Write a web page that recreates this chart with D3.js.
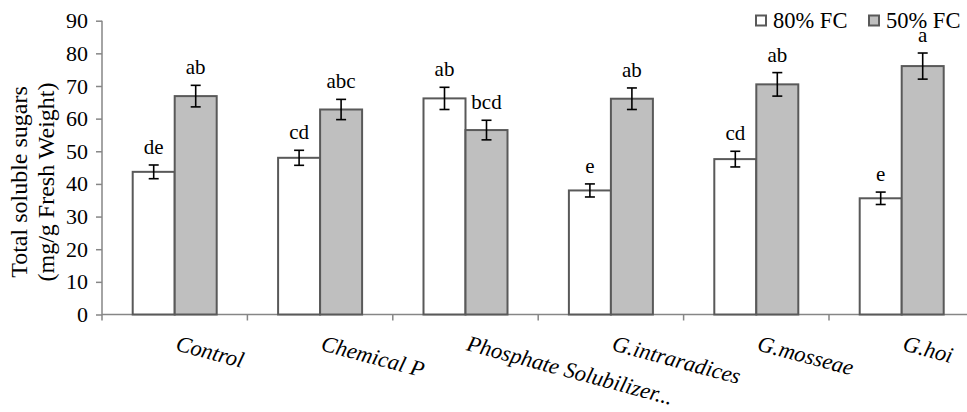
<!DOCTYPE html>
<html>
<head>
<meta charset="utf-8">
<script src="https://cdn.jsdelivr.net/npm/d3@7"></script>
</head>
<body style="margin:0">
<svg id="chart" width="967" height="412" style="font-family: 'Liberation Serif', 'Times New Roman', serif"></svg>
<script>
const categories = ["Control", "Chemical P", "Phosphate Solubilizer...", "G.intraradices", "G.mosseae", "G.hoi"];
const seriesNames = ["80% FC", "50% FC"];
const fc80 = [43.7, 48.0, 66.2, 38.0, 47.6, 35.6];
const fc50 = [66.9, 62.8, 56.5, 66.1, 70.5, 76.1];
const err80 = [2.1, 2.3, 3.4, 2.0, 2.4, 1.9];
const err50 = [3.3, 3.1, 3.0, 3.3, 3.6, 4.0];
const letters80 = ["de", "cd", "ab", "e", "cd", "e"];
const letters50 = ["ab", "abc", "bcd", "ab", "ab", "a"];
const yTicks = [0, 10, 20, 30, 40, 50, 60, 70, 80, 90];

const FONT = "'Liberation Serif', 'Times New Roman', serif";
const svg = d3.select("#chart");
const mLeft = 102, mTop = 20.7, mBottom = 314.5, bandW = 145.4;
const mRight = mLeft + bandW * categories.length;

const x = d3.scaleBand().domain(categories).range([mLeft, mRight]).paddingInner(0).paddingOuter(0);
const xs = d3.scaleBand().domain(seriesNames).range([0, 84]).padding(0);
const y = d3.scaleLinear().domain([0, 90]).range([mBottom, mTop]);

const fills = ["#ffffff", "#bfbfbf"];
const barStroke = "#595959";
const axisColor = "#868686";

const rows = categories.map((c, i) => ({
  cat: c,
  vals: [
    { s: seriesNames[0], v: fc80[i], e: err80[i], l: letters80[i], k: 0 },
    { s: seriesNames[1], v: fc50[i], e: err50[i], l: letters50[i], k: 1 }
  ]
}));

// y axis
const ya = svg.append("g").attr("transform", `translate(${mLeft},0)`)
  .call(d3.axisLeft(y).tickValues(yTicks).tickSize(6).tickSizeOuter(0).tickPadding(8));
ya.attr("font-family", null).style("font-family", FONT);
ya.select(".domain").remove();
ya.append("line").attr("x1", 0).attr("x2", 0).attr("y1", y(90)).attr("y2", mBottom + 6)
  .attr("stroke", axisColor).attr("stroke-width", 1.5);
ya.selectAll(".tick line").attr("stroke", axisColor).attr("stroke-width", 1.5);
ya.selectAll(".tick text").attr("font-size", 22).style("font-family", FONT).attr("fill", "#000");

// x axis
const xa = svg.append("g");
xa.append("line").attr("x1", mLeft).attr("x2", mRight).attr("y1", mBottom).attr("y2", mBottom)
  .attr("stroke", axisColor).attr("stroke-width", 1.5);
xa.selectAll("line.tk").data(categories.slice(1)).join("line").attr("class", "tk")
  .attr("x1", d => x(d)).attr("x2", d => x(d))
  .attr("y1", mBottom).attr("y2", mBottom + 6)
  .attr("stroke", axisColor).attr("stroke-width", 1.5);

// bars
const groups = svg.append("g").selectAll("g.grp").data(rows).join("g")
  .attr("transform", d => `translate(${x(d.cat) + x.bandwidth() / 2 - 42},0)`);

groups.selectAll("rect").data(d => d.vals).join("rect")
  .attr("x", d => xs(d.s))
  .attr("width", xs.bandwidth())
  .attr("y", d => y(d.v))
  .attr("height", d => y(0) - y(d.v))
  .attr("fill", d => fills[d.k])
  .attr("stroke", barStroke)
  .attr("stroke-width", 2);

// category labels
svg.append("g").selectAll("text").data(categories).join("text")
  .attr("transform", d => `translate(${x(d) + x.bandwidth() / 2},350) rotate(15)`)
  .style("font-family", FONT)
  .attr("font-size", 22.5).attr("font-style", "italic")
  .text(d => d);

// error bars
const eb = groups.selectAll("g.eb").data(d => d.vals).join("g").attr("class", "eb")
  .attr("transform", d => `translate(${xs(d.s) + xs.bandwidth() / 2},0)`);
eb.append("line").attr("x1", 0).attr("x2", 0)
  .attr("y1", d => y(d.v + d.e)).attr("y2", d => y(d.v - d.e))
  .attr("stroke", "#000").attr("stroke-width", 1.6);
eb.append("line").attr("x1", -5).attr("x2", 5)
  .attr("y1", d => y(d.v + d.e)).attr("y2", d => y(d.v + d.e))
  .attr("stroke", "#000").attr("stroke-width", 1.6);
eb.append("line").attr("x1", -5).attr("x2", 5)
  .attr("y1", d => y(d.v - d.e)).attr("y2", d => y(d.v - d.e))
  .attr("stroke", "#000").attr("stroke-width", 1.6);
eb.append("text")
  .attr("x", 0).attr("y", d => y(d.v + d.e) - 11)
  .attr("text-anchor", "middle").attr("font-size", 21)
  .style("font-family", FONT)
  .text(d => d.l);

// y label
const yl = svg.append("g").attr("transform", "translate(0,182) rotate(-90)");
yl.append("text").attr("x", 0).attr("y", 27).attr("text-anchor", "middle").attr("font-size", 24)
  .style("font-family", FONT)
  .text("Total soluble sugars");
yl.append("text").attr("x", 0).attr("y", 54).attr("text-anchor", "middle").attr("font-size", 24)
  .style("font-family", FONT)
  .text("(mg/g Fresh Weight)");

// legend
const legX = [755, 868];
const lg = svg.append("g").selectAll("g").data(seriesNames).join("g")
  .attr("transform", (d, i) => `translate(${legX[i]},0)`);
lg.append("rect").attr("x", 1).attr("y", 15.5).attr("width", 10).attr("height", 10)
  .attr("fill", (d, i) => fills[i]).attr("stroke", barStroke).attr("stroke-width", 2);
lg.append("text").attr("x", 18).attr("y", 28).attr("font-size", 22.5)
  .style("font-family", FONT).text(d => d);
</script>
</body>
</html>
